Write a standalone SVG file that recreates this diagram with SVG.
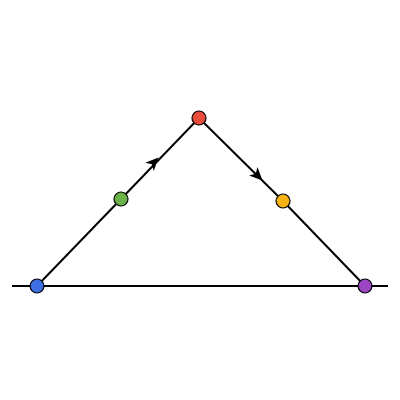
<svg xmlns="http://www.w3.org/2000/svg" width="400" height="400" viewBox="0 0 400 400">
<defs>
<style>
.edge{stroke:#000;stroke-width:2;fill:none}
.node{stroke:#000;stroke-width:1.2}
.head{fill:#000}
</style>
<path id="ah" class="head" d="M0,0 L-13,-6 L-9.5,0 L-13,6 Z"/>
</defs>
<rect width="400" height="400" fill="#fff"/>
<g id="connectors">
<line class="edge" x1="12" y1="286" x2="388" y2="286"/>
<line class="edge" x1="37" y1="286" x2="121" y2="199"/>
<line class="edge" x1="121" y1="199" x2="199" y2="118"/>
<line class="edge" x1="199" y1="118" x2="283" y2="201"/>
<line class="edge" x1="283" y1="201" x2="365" y2="286"/>
<use href="#ah" transform="translate(158.5,157.5) rotate(-46)"/>
<use href="#ah" transform="translate(262.5,180.5) rotate(44.7)"/>
</g>
<g id="n-blue"><circle class="node" cx="37" cy="286" r="7" fill="#3d6fe3"/></g>
<g id="n-green"><circle class="node" cx="121" cy="199" r="7" fill="#6cb147"/></g>
<g id="n-red"><circle class="node" cx="199" cy="118" r="7" fill="#e94b3c"/></g>
<g id="n-orange"><circle class="node" cx="283" cy="201" r="7" fill="#f7b313"/></g>
<g id="n-purple"><circle class="node" cx="365" cy="286" r="7" fill="#9b45c2"/></g>
</svg>
